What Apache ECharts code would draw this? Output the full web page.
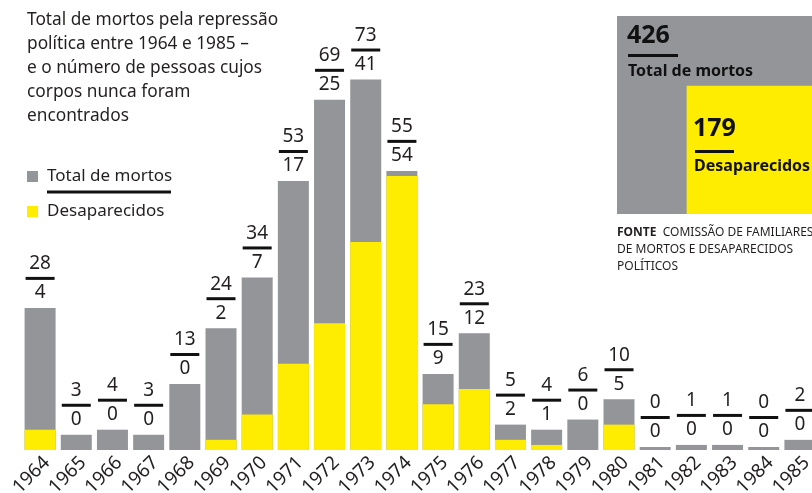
<!DOCTYPE html>
<html><head><meta charset="utf-8">
<script src="https://cdn.jsdelivr.net/npm/echarts@6/dist/echarts.min.js"></script>
<style>html,body{margin:0;padding:0;background:#fff}#c{width:812px;height:493px}</style>
</head><body><div id="c"></div>
<script>
const years = ['1964','1965','1966','1967','1968','1969','1970','1971','1972','1973','1974','1975','1976','1977','1978','1979','1980','1981','1982','1983','1984','1985'];
const totalMortos = [28,3,4,3,13,24,34,53,69,73,55,15,23,5,4,6,10,0,1,1,0,2];
const desaparecidos = [4,0,0,0,0,2,7,17,25,41,54,9,12,2,1,0,5,0,0,0,0,0];
const totalSum = 426;
const desapSum = 179;
const titleLines = ['Total de mortos pela repressão','política entre 1964 e 1985 –','e o número de pessoas cujos','corpos nunca foram','encontrados'];

const GRAY = '#939598', YELLOW = '#FFED00', INK = '#231F20';
const FONT = 'Noto Sans';

const chart = echarts.init(document.getElementById('c'), null, {renderer: 'canvas'});

// proportional squares in top-right box
const k = 198 / Math.sqrt(totalSum);
const sT = k * Math.sqrt(totalSum), sD = k * Math.sqrt(desapSum);
const boxRight = 815, boxBottom = 214;

chart.setOption({
  animation: false,
  textStyle: {fontFamily: FONT},
  grid: {left: 22, width: 796, top: 44, bottom: 43, containLabel: false, outerBoundsMode: 'none'},
  xAxis: {
    type: 'category', data: years,
    axisLine: {show: false}, axisTick: {show: false},
    axisLabel: {rotate: 45, fontSize: 19, color: INK, margin: 3, interval: 0, fontFamily: FONT, verticalAlign: 'top'}
  },
  yAxis: {type: 'value', min: 0, max: 80, show: false, splitLine: {show: false}},
  legend: {
    orient: 'vertical', left: 22, top: 163, itemWidth: 11, itemHeight: 11, itemGap: 18,
    icon: 'rect',
    textStyle: {fontSize: 17, color: INK, fontFamily: FONT, padding: [0,0,0,4]},
    data: ['Total de mortos', 'Desaparecidos']
  },
  series: [
    {
      name: 'Total de mortos', type: 'bar', data: totalMortos, barWidth: 31, barGap: '-100%',
      barMinHeight: 3,
      itemStyle: {color: GRAY},
      label: {
        show: true, position: 'top', distance: 4,
        formatter: p => '{t|' + totalMortos[p.dataIndex] + '}\n{l| }\n{d|' + desaparecidos[p.dataIndex] + '}',
        rich: {
          t: {fontSize: 19, lineHeight: 22, color: INK, fontFamily: FONT, align: 'center'},
          l: {width: 29, height: 3, lineHeight: 7, backgroundColor: '#111', align: 'center', fontSize: 1},
          d: {fontSize: 19, lineHeight: 22, color: INK, fontFamily: FONT, align: 'center'}
        }
      },
      z: 2
    },
    {
      name: 'Desaparecidos', type: 'bar', data: desaparecidos, barWidth: 31,
      itemStyle: {color: YELLOW}, z: 3
    }
  ],
  graphic: [
    {type: 'text', left: 27, top: 8, style: {text: titleLines.join('\n'), fontSize: 17.3, lineHeight: 24, fill: INK, fontFamily: FONT}},
    {type: 'rect', left: 47, top: 190.5, shape: {width: 124, height: 3}, style: {fill: '#111'}},
    {type: 'rect', left: boxRight - sT, top: boxBottom - sT, shape: {width: sT, height: sT}, style: {fill: GRAY}},
    {type: 'rect', left: boxRight - sD, top: boxBottom - sD, shape: {width: sD, height: sD}, style: {fill: YELLOW}},
    {type: 'text', left: 627, top: 23, style: {text: String(totalSum), fontSize: 25, fontWeight: 'bold', fill: '#111', fontFamily: FONT}},
    {type: 'rect', left: 628, top: 54, shape: {width: 50, height: 3}, style: {fill: '#111'}},
    {type: 'text', left: 628, top: 63, style: {text: 'Total de mortos', fontSize: 16, fontWeight: 'bold', fill: '#111', fontFamily: FONT}},
    {type: 'text', left: 693, top: 116, style: {text: String(desapSum), fontSize: 25, fontWeight: 'bold', fill: '#111', fontFamily: FONT}},
    {type: 'rect', left: 695, top: 150, shape: {width: 39, height: 3}, style: {fill: '#111'}},
    {type: 'text', left: 694, top: 158, style: {text: 'Desaparecidos', fontSize: 16, fontWeight: 'bold', fill: '#111', fontFamily: FONT}},
    {type: 'text', left: 617, top: 224, style: {
      text: '{b|FONTE}  COMISSÃO DE FAMILIARES\nDE MORTOS E DESAPARECIDOS\nPOLÍTICOS',
      fontSize: 12, lineHeight: 17, fill: INK, fontFamily: FONT,
      rich: {b: {fontWeight: 'bold', fontSize: 12, fill: INK, fontFamily: FONT}}
    }}
  ]
});
</script></body></html>
